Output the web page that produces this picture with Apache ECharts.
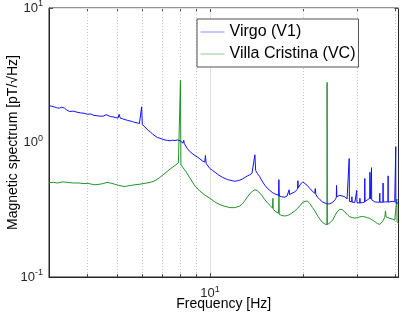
<!DOCTYPE html>
<html>
<head>
<meta charset="utf-8">
<script src="https://cdn.jsdelivr.net/npm/echarts@6/dist/echarts.min.js"></script>
<style>
html,body{margin:0;padding:0;background:#fff;}
#chart{width:402px;height:314px;}
</style>
</head>
<body>
<div id="chart"></div>
<script>
// ---------- data ----------
const seriesNames = ['Virgo (V1)', 'Villa Cristina (VC)'];

const virgoFreq = [3.00,3.06,3.12,3.18,3.24,3.30,3.33,3.37,3.43,3.50,3.60,3.70,3.80,3.90,4.00,4.10,4.20,4.30,4.40,4.50,4.60,4.65,4.75,4.85,4.95,5.03,5.07,5.11,5.20,5.30,5.40,5.50,5.60,5.70,5.80,5.90,5.97,6.00,6.03,6.10,6.20,6.30,6.40,6.50,6.63,6.75,6.88,7.00,7.14,7.30,7.42,7.55,7.70,7.85,8.00,8.10,8.18,8.22,8.26,8.35,8.45,8.61,8.75,8.94,9.10,9.28,9.45,9.62,9.67,9.72,9.85,10.0,10.2,10.4,10.6,10.78,11.0,11.2,11.4,11.61,11.8,12.05,12.3,12.51,12.75,12.99,13.25,13.48,13.7,13.9,14.0,14.08,14.25,14.5,14.75,15.09,15.4,15.66,15.95,16.26,16.5,16.72,16.75,16.8,17.1,17.52,17.8,18.05,18.09,18.14,18.5,18.88,19.1,19.27,19.31,19.36,19.7,20.04,20.34,20.7,21.12,21.5,21.9,22.0,22.1,22.42,22.8,23.2,23.63,24.0,24.53,25.08,25.5,25.75,25.79,25.85,26.43,26.9,27.44,27.9,28.3,28.35,28.4,28.9,28.93,28.97,29.57,29.95,30.0,30.05,30.7,30.72,30.76,31.3,31.8,31.86,31.92,32.5,33.07,33.1,33.2,33.45,33.5,33.55,34.33,35.0,35.6,35.64,35.68,36.5,36.53,36.57,37.2,37.9,37.93,37.97,38.41,39.1,39.86,40.15,40.17,40.2,40.6,41.0];
const virgoAmp = [1.88,1.86,1.84,1.81,1.80,1.83,1.87,1.80,1.74,1.70,1.71,1.68,1.66,1.65,1.62,1.63,1.59,1.58,1.57,1.57,1.61,1.58,1.56,1.55,1.53,1.52,1.62,1.52,1.50,1.48,1.46,1.445,1.43,1.41,1.40,1.385,1.37,1.84,1.36,1.32,1.28,1.23,1.20,1.16,1.12,1.09,1.075,1.06,1.045,1.035,1.03,1.04,1.035,1.045,1.03,1.01,0.99,1.04,0.98,0.94,0.90,0.855,0.83,0.80,0.78,0.755,0.73,0.715,0.80,0.70,0.67,0.64,0.62,0.60,0.58,0.565,0.55,0.54,0.53,0.525,0.52,0.515,0.52,0.525,0.535,0.55,0.565,0.575,0.59,0.61,0.81,0.62,0.59,0.56,0.52,0.48,0.455,0.44,0.425,0.415,0.41,0.405,0.53,0.40,0.395,0.392,0.40,0.41,0.445,0.41,0.42,0.43,0.44,0.45,0.52,0.46,0.49,0.51,0.505,0.48,0.455,0.435,0.42,0.455,0.41,0.39,0.375,0.362,0.355,0.35,0.35,0.36,0.375,0.39,0.48,0.395,0.405,0.40,0.395,0.38,0.37,0.76,0.365,0.362,0.395,0.36,0.358,0.36,0.44,0.357,0.355,0.385,0.355,0.358,0.36,0.54,0.365,0.375,0.385,0.60,0.38,0.38,0.65,0.375,0.362,0.36,0.36,0.42,0.36,0.36,0.50,0.36,0.362,0.362,0.565,0.36,0.363,0.365,0.363,0.36,0.93,0.355,0.352,0.353];

const vcFreq = [3.00,3.10,3.20,3.33,3.45,3.60,3.75,3.90,4.02,4.12,4.23,4.35,4.50,4.63,4.75,4.90,5.05,5.18,5.26,5.40,5.55,5.70,5.93,6.15,6.40,6.63,6.88,7.14,7.42,7.70,7.90,7.99,8.02,8.05,8.15,8.35,8.61,8.94,9.28,9.65,10.0,10.4,10.78,11.2,11.61,12.05,12.51,12.75,12.99,13.25,13.48,13.75,14.0,14.25,14.53,14.8,15.09,15.4,15.7,15.98,16.02,16.06,16.4,16.72,16.76,16.8,17.1,17.52,17.9,18.3,18.88,19.3,19.6,20.04,20.34,20.7,21.12,21.5,21.93,22.42,22.8,23.2,23.63,24.0,24.03,24.08,24.53,25.08,25.46,25.9,26.43,26.9,27.44,28.0,28.49,29.0,29.57,30.1,30.69,31.3,31.86,32.5,33.07,33.7,34.33,35.0,35.64,36.1,36.53,37.0,37.2,37.35,37.8,38.41,39.1,39.86,40.45,40.5,40.55,41.0];
const vcAmp = [0.503,0.505,0.50,0.51,0.505,0.50,0.50,0.495,0.497,0.49,0.485,0.488,0.495,0.505,0.50,0.49,0.48,0.475,0.47,0.475,0.48,0.485,0.49,0.497,0.505,0.52,0.55,0.59,0.635,0.675,0.705,0.715,2.90,0.68,0.665,0.61,0.545,0.475,0.435,0.405,0.385,0.36,0.345,0.335,0.328,0.328,0.337,0.35,0.37,0.395,0.415,0.435,0.445,0.44,0.42,0.40,0.375,0.355,0.34,0.325,0.385,0.318,0.305,0.298,0.41,0.292,0.287,0.284,0.287,0.295,0.31,0.325,0.338,0.36,0.372,0.368,0.352,0.33,0.31,0.283,0.268,0.255,0.248,0.245,2.80,0.245,0.253,0.265,0.285,0.305,0.318,0.317,0.305,0.29,0.28,0.277,0.274,0.276,0.28,0.282,0.28,0.276,0.273,0.265,0.258,0.25,0.246,0.25,0.262,0.278,0.31,0.28,0.275,0.273,0.27,0.265,0.262,0.38,0.258,0.25];

const xRange = [3, 41];
const yRange = [0.1, 10];
const xMajorTicks = [10];
const xMinorTicks = [4, 5, 6, 7, 8, 9, 20, 30, 40];
const yMajorTicks = [0.1, 1, 10];
const yMinorTicks = [0.2, 0.3, 0.4, 0.5, 0.6, 0.7, 0.8, 0.9, 2, 3, 4, 5, 6, 7, 8, 9];

// ---------- chart ----------
const TXT = '#262626';
const FONT = 'Liberation Sans, Arial, sans-serif';
const zip = (a, b) => a.map((v, i) => [v, b[i]]);

function powLabel(v) {
  const e = Math.round(Math.log10(v));
  if (Math.abs(Math.log10(v) - e) > 1e-6) return '';
  return '{b|10}{s|' + e + '}';
}
const richLbl = {
  b: { fontSize: 13, color: TXT, fontFamily: FONT },
  s: { fontSize: 9, color: TXT, fontFamily: FONT, padding: [0, 0, 8, 0] }
};

function gridRender(kind, minor) {
  return function (params, api) {
    const cs = params.coordSys;
    const v = api.value(0);
    const dash = minor ? [1, 2] : null;
    const gcol = minor ? '#c8c8c8' : '#e2e2e2';
    const tl = minor ? 3 : 4;
    let children;
    if (kind === 'x') {
      const x = Math.round(api.coord([v, 1])[0]) + 0.5;
      children = [
        { type: 'line', shape: { x1: x, y1: cs.y, x2: x, y2: cs.y + cs.height }, style: { stroke: gcol, lineWidth: 1, lineDash: dash } },
        { type: 'line', shape: { x1: x, y1: cs.y + cs.height, x2: x, y2: cs.y + cs.height - tl }, style: { stroke: TXT, lineWidth: 0.8 } },
        { type: 'line', shape: { x1: x, y1: cs.y, x2: x, y2: cs.y + tl }, style: { stroke: TXT, lineWidth: 0.8 } }
      ];
    } else {
      const y = Math.round(api.coord([10, v])[1]) + 0.5;
      children = [
        { type: 'line', shape: { x1: cs.x, y1: y, x2: cs.x + cs.width, y2: y }, style: { stroke: gcol, lineWidth: 1, lineDash: dash } },
        { type: 'line', shape: { x1: cs.x, y1: y, x2: cs.x + tl, y2: y }, style: { stroke: TXT, lineWidth: 0.8 } },
        { type: 'line', shape: { x1: cs.x + cs.width, y1: y, x2: cs.x + cs.width - tl, y2: y }, style: { stroke: TXT, lineWidth: 0.8 } }
      ];
    }
    return { type: 'group', children };
  };
}
function gridSeries(kind, minor, vals) {
  return {
    type: 'custom', silent: true, z: 1, legendHoverLink: false,
    renderItem: gridRender(kind, minor),
    data: vals.map(v => kind === 'x' ? [v, 1] : [10, v]),
    clip: false, animation: false, tooltip: { show: false }
  };
}

const chart = echarts.init(document.getElementById('chart'), null, { renderer: 'canvas' });
chart.setOption({
  animation: false,
  backgroundColor: '#ffffff',
  textStyle: { fontFamily: FONT, color: TXT },
  grid: { left: 49, right: 3.5, top: 8, bottom: 37, containLabel: false, outerBoundsMode: 'none',
          show: true, borderColor: TXT, borderWidth: 1, backgroundColor: '#fff' },
  legend: {
    data: seriesNames,
    orient: 'vertical',
    left: 197, top: 19,
    padding: [5, 3, 5, 3],
    itemWidth: 24, itemHeight: 14, itemGap: 6, itemTextGap: 4,
    backgroundColor: '#fff', borderColor: TXT, borderWidth: 0.8,
    textStyle: { fontSize: 16, color: '#000', fontFamily: FONT },
    lineStyle: { width: 1, opacity: 0.5 },
    itemStyle: { opacity: 0 },
    selectedMode: false
  },
  xAxis: {
    type: 'log', logBase: 10, min: xRange[0], max: xRange[1],
    name: 'Frequency [Hz]', nameLocation: 'middle', nameGap: 20, nameMoveOverlap: false,
    nameTextStyle: { fontSize: 14, color: '#000', fontFamily: FONT },
    axisLine: { show: true, lineStyle: { color: TXT, width: 1 } },
    axisTick: { show: false },
    splitLine: { show: false },
    axisLabel: { formatter: powLabel, rich: richLbl, margin: 8, showMinLabel: false, showMaxLabel: false }
  },
  yAxis: {
    type: 'log', logBase: 10, min: yRange[0], max: yRange[1],
    name: 'Magnetic spectrum [pT/\u221AHz]', nameLocation: 'middle', nameGap: 29, nameMoveOverlap: false,
    nameTextStyle: { fontSize: 14, color: '#000', fontFamily: FONT },
    axisLine: { show: true, lineStyle: { color: TXT, width: 1 } },
    axisTick: { show: false },
    splitLine: { show: false },
    axisLabel: { formatter: powLabel, rich: richLbl, margin: 6 }
  },
  series: [
    gridSeries('x', true, xMinorTicks),
    gridSeries('x', false, xMajorTicks),
    gridSeries('y', true, yMinorTicks),
    gridSeries('y', false, yMajorTicks),
    {
      name: seriesNames[0], type: 'line', z: 3, symbol: 'none', showSymbol: false,
      data: zip(virgoFreq, virgoAmp),
      lineStyle: { color: '#1010ff', width: 1 }, itemStyle: { color: '#1010ff' }
    },
    {
      name: seriesNames[1], type: 'line', z: 2, symbol: 'none', showSymbol: false,
      data: zip(vcFreq, vcAmp),
      lineStyle: { color: '#22922a', width: 1 }, itemStyle: { color: '#22922a' }
    }
  ]
});
</script>
</body>
</html>
